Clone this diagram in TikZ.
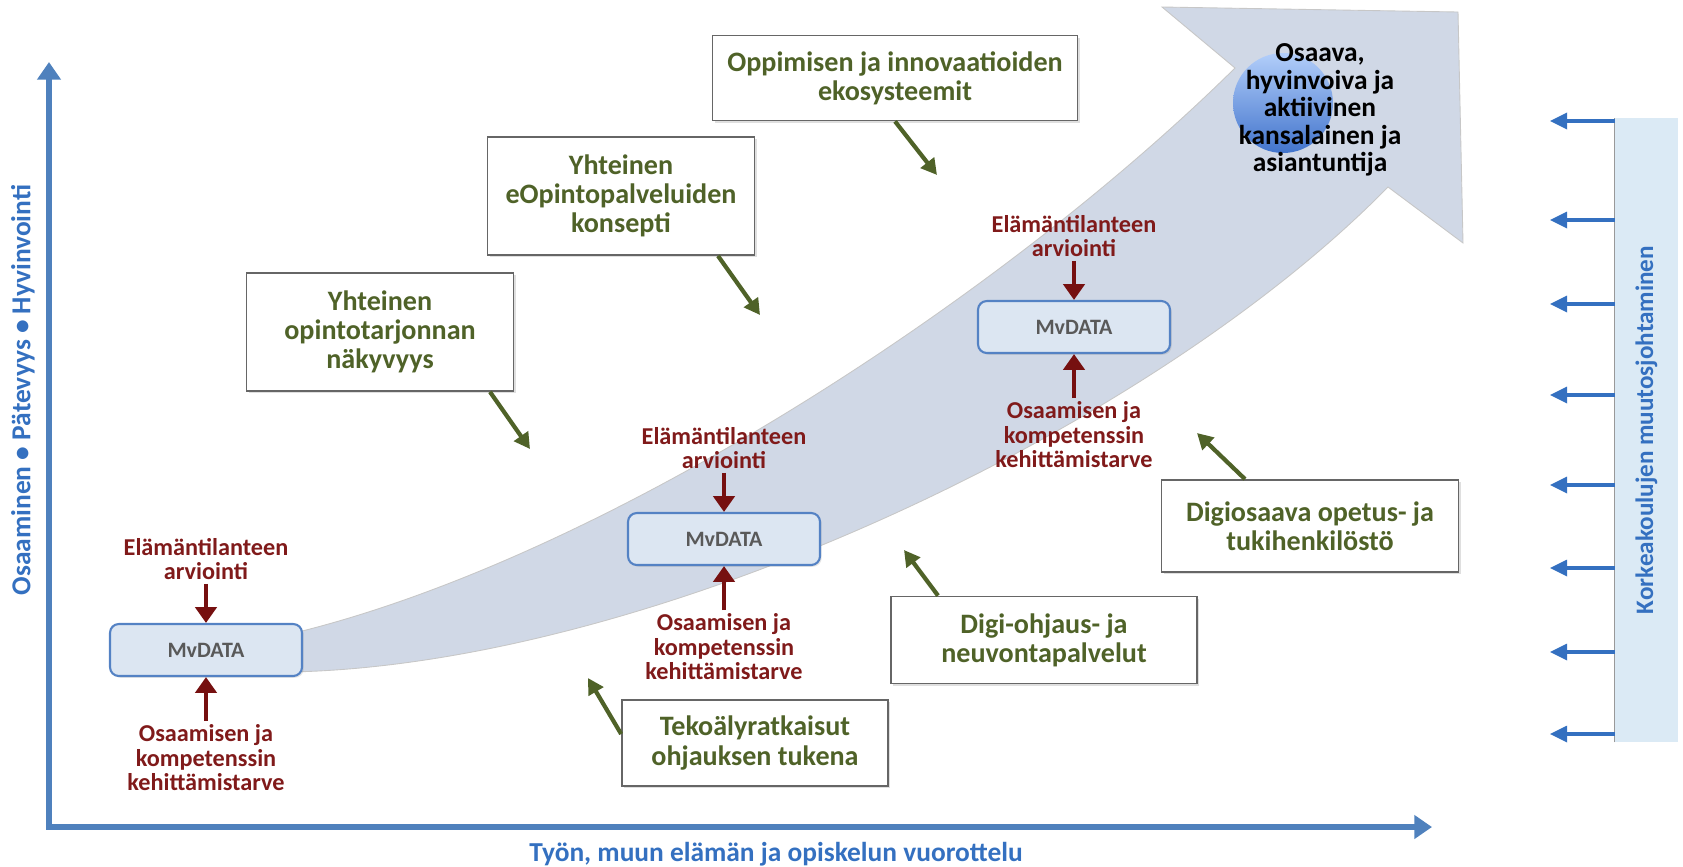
\documentclass[tikz,border=0pt]{standalone}
\usepackage{fontspec}
\setmainfont{Carlito}
\usetikzlibrary{positioning,arrows.meta,shadows}
\definecolor{axisblue}{RGB}{79,129,189}
\definecolor{labelblue}{RGB}{52,112,192}
\definecolor{leafgreen}{RGB}{79,98,40}
\definecolor{rust}{RGB}{128,26,26}
\definecolor{rustdark}{RGB}{118,16,16}
\definecolor{bandfill}{RGB}{208,216,230}
\definecolor{mvfill}{RGB}{220,230,242}
\definecolor{mvline}{RGB}{84,130,196}
\definecolor{panelfill}{RGB}{219,234,245}
\begin{document}
\begin{tikzpicture}
	[x=0.02cm, y=-0.02cm,
	every node/.style={align=center},
	axisline/.style={draw=axisblue, line width=3pt, line join=miter,
		{Triangle[length=10pt,width=13pt]}-{Triangle[length=10pt,width=13pt]}},
	axislabel/.style={text=labelblue, font=\fontsize{15.6}{18}\selectfont\bfseries},
	greenbox/.style={draw=black!60, line width=1pt, fill=white, text=leafgreen,
		inner sep=0pt, font=\fontsize{16}{16.6}\selectfont\bfseries,
		drop shadow={shadow xshift=1.2pt, shadow yshift=-1.2pt, opacity=0.25}},
	hint/.style={draw=leafgreen, line width=2.4pt, -{Triangle[length=9pt,width=9.5pt]}},
	mvbox/.style={draw=mvline, line width=1.2pt, fill=mvfill, rounded corners=5pt,
		minimum width=3.84cm, minimum height=1.04cm, text=black!65,
		font=\fontsize{12.5}{14}\selectfont\bfseries,
		drop shadow={shadow xshift=1pt, shadow yshift=-1pt, opacity=0.2}},
	need/.style={text=rust, inner sep=0pt, font=\fontsize{13.8}{13.8}\selectfont\bfseries},
	push/.style={draw=rustdark, line width=2.3pt, shorten <=2pt,
		-{Triangle[length=9pt,width=12pt]}},
	orb/.style={circle, minimum size=2cm, inner sep=0pt,
		top color={rgb,255:red,178;green,206;blue,250},
		bottom color={rgb,255:red,66;green,116;blue,204}},
	goal/.style={text=black, font=\fontsize{15.6}{15.6}\selectfont\bfseries},
	panel/.style={fill=panelfill, minimum width=12.48cm, minimum height=1.26cm,
		text=labelblue, font=\fontsize{14.3}{16}\selectfont\bfseries},
	lead/.style={draw=labelblue, line width=2.2pt, -{Triangle[length=10pt,width=9pt]}}]
	\useasboundingbox (0,0) rectangle (1683,866);
	\coordinate (o) at (49,827);
	\coordinate (ytip) at (49,62);
	\coordinate (xtip) at (1432,827);
	\draw[axisline] (ytip) -- (o) -- (xtip);
	\node[axislabel, rotate=90] (ylab) at (23,390) {Osaaminen • Pätevyys • Hyvinvointi};
	\node[axislabel] (xlab) at (776,854) {Työn, muun elämän ja opiskelun vuorottelu};
	\filldraw[fill=bandfill, draw=black!22, line width=0.5pt]
		(290,634) .. controls (600,560) and (1000,300) .. (1235,68)
		-- (1162,7) -- (1458,12) -- (1463,243) -- (1388,187)
		.. controls (1150,430) and (650,665) .. (290,672) -- cycle;
	\node[orb] (orb) at (1283,103) {};
	\node[goal] (goal) at (1320,110) {Osaava,\\hyvinvoiva ja\\aktiivinen\\kansalainen ja\\asiantuntija};
	\foreach \n/\x/\y in {1/206/650, 2/724/539, 3/1074/327} {
		\node[mvbox] (m\n) at (\x,\y) {MvDATA};
		\node[need, above=0.85cm of m\n] (a\n) {Elämäntilanteen\\arviointi};
		\node[need, below=0.95cm of m\n] (b\n) {Osaamisen ja\\kompetenssin\\kehittämistarve};
		\draw[push] (a\n) -- (m\n);
		\draw[push] (b\n) -- (m\n);
	}
	\node[greenbox, minimum width=7.3cm, minimum height=1.7cm] (g1) at (895,78) {Oppimisen ja innovaatioiden\\ekosysteemit};
	\node[greenbox, minimum width=5.34cm, minimum height=2.36cm] (g2) at (621,196) {Yhteinen\\eOpintopalveluiden\\konsepti};
	\node[greenbox, minimum width=5.34cm, minimum height=2.36cm] (g3) at (380,332) {Yhteinen\\opintotarjonnan\\näkyvyys};
	\node[greenbox, minimum width=5.32cm, minimum height=1.72cm] (g4) at (755,743) {Tekoälyratkaisut\\ohjauksen tukena};
	\node[greenbox, minimum width=6.12cm, minimum height=1.74cm] (g5) at (1044,640) {Digi-ohjaus- ja\\neuvontapalvelut};
	\node[greenbox, minimum width=5.94cm, minimum height=1.84cm] (g6) at (1310,526) {Digiosaava opetus- ja\\tukihenkilöstö};
	\coordinate (t1) at (937,175);
	\coordinate (t2) at (760,315);
	\coordinate (t3) at (530,449);
	\coordinate (t4) at (588,678);
	\coordinate (t5) at (904,550);
	\coordinate (t6) at (1197,433);
	\draw[hint] (g1.south) -- (t1);
	\draw[hint] ([xshift=1.94cm]g2.south) -- (t2);
	\draw[hint] ([xshift=2.2cm]g3.south) -- (t3);
	\draw[hint] ([yshift=0.18cm]g4.west) -- (t4);
	\draw[hint] ([xshift=-2.12cm]g5.north) -- (t5);
	\draw[hint] ([xshift=-1.3cm]g6.north) -- (t6);
	\node[panel, rotate=90] (panel) at (1646.5,430) {Korkeakoulujen muutosjohtaminen};
	\draw[black!40, line width=0.6pt] (panel.north west) -- (panel.north east);
	\foreach \y in {121,220,304,395,485,568,652,734}
		\draw[lead] (panel.north |- 0,\y) -- ++(-65,0);
\end{tikzpicture}
\end{document}
